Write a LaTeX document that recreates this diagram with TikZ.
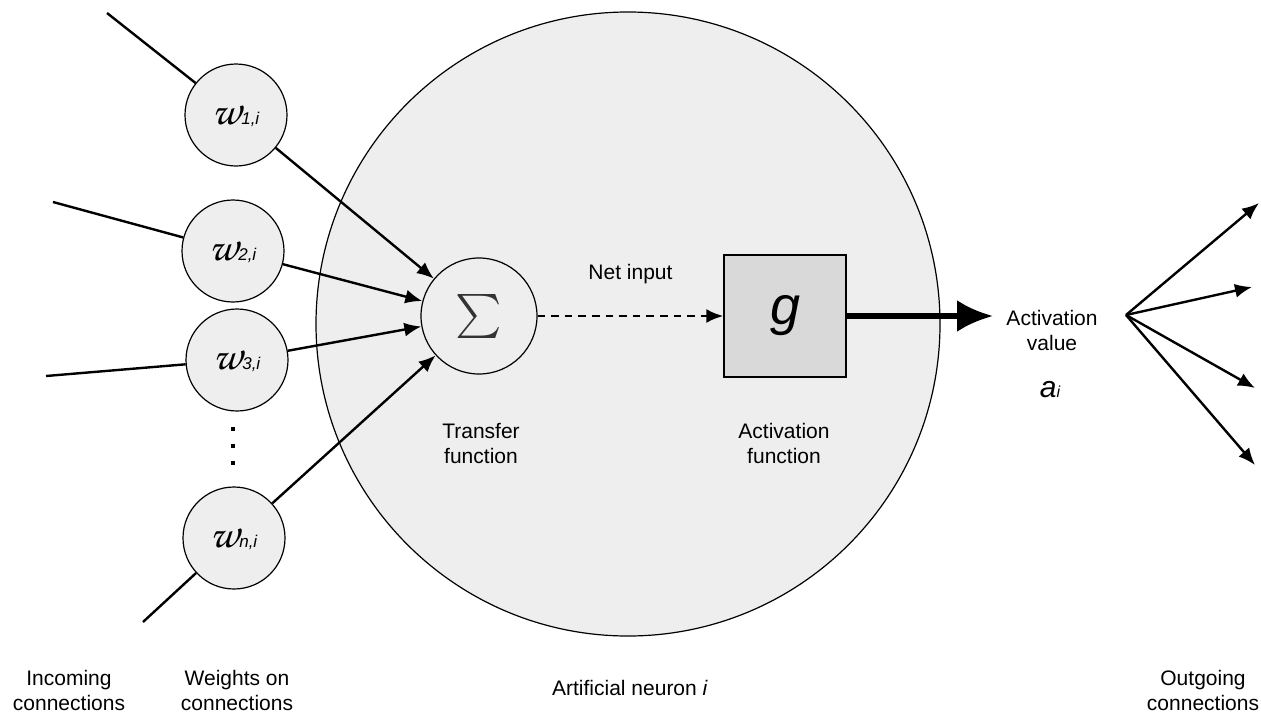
\documentclass[tikz,border=0pt]{standalone}
\usepackage[T1,TU]{fontenc}
\usepackage{fontspec}
\setmainfont{Liberation Sans}
\usetikzlibrary{arrows.meta,positioning}
\definecolor{neurongray}{HTML}{EEEEEE}
\definecolor{boxgray}{HTML}{D9D9D9}
\newcommand{\wlabel}[1]{{\fontencoding{T1}\fontfamily{pzc}\fontseries{mb}\fontshape{it}\fontsize{21}{21}\selectfont w}{\fontsize{8.5}{9}\selectfont\itshape #1}}
\begin{document}
\begin{tikzpicture}[
                        x=0.5pt, y=-0.5pt,
                        >={Latex[length=8.5pt,width=7pt]},
                        font=\fontsize{10.5}{12.5}\selectfont,
                        weight/.style={circle, draw, fill=neurongray, line width=0.6pt, minimum size=51pt, inner sep=0pt},
                        link/.style={line width=1.2pt},
                        txt/.style={align=center}
                    ]
                    \useasboundingbox (0,0) rectangle (1261,712);
                    % Blocks
                    \node [circle, draw, fill=neurongray, line width=0.6pt, minimum size=312pt, inner sep=0pt] (neuron) at (628,324) {};
                    \node [circle, draw, fill=neurongray, line width=0.6pt, minimum size=58pt, inner sep=0pt] (sum) at (479,316) {\color{black!80}\scalebox{2.2}{$\sum$}};
                    \node [rectangle, draw, fill=boxgray, line width=0.6pt, minimum size=61pt, inner sep=0pt] (g) at (785,316) {\fontsize{27}{27}\selectfont\itshape g};
                    \node [weight] (w1) at (236,115) {\wlabel{1,i}};
                    \node [weight] (w2) at (233,251) {\wlabel{2,i}};
                    \node [weight] (w3) at (237,360) {\wlabel{3,i}};
                    \node [weight] (wn) at (234,538) {\wlabel{n,i}};
                    \foreach \y in {429,446,463}
                        \fill (230.75,\y-2.25) rectangle ++(4.5,4.5);

                    \node [coordinate] (in1) at (107,13) {};
                    \node [coordinate] (in2) at (53,202) {};
                    \node [coordinate] (in3) at (46,376) {};
                    \node [coordinate] (inn) at (143,622) {};
                    \node [coordinate] (act) at (993,316) {};
                    \node [coordinate] (out) at (1126,315) {};
                    \node [coordinate] (o1) at (1259,203) {};
                    \node [coordinate] (o2) at (1252,287) {};
                    \node [coordinate] (o3) at (1255,388) {};
                    \node [coordinate] (o4) at (1255,465) {};

                    % Labels
                    \node [txt] (transfer) at (481,443) {Transfer\\function};
                    \node [txt] (actfun) at (784,443) {Activation\\function};
                    \node [txt] (actval) at (1052,330) {Activation\\value};
                    \node (ai) at (1050,390) {\fontsize{15}{15}\selectfont\itshape a\fontsize{8}{8}\selectfont i};
                    \node [txt] (incoming) at (69,690) {Incoming\\connections};
                    \node [txt] (weights) at (237,690) {Weights on\\connections};
                    \node (artificial) at (630,688) {Artificial neuron \textit{i}};
                    \node [txt] (outgoing) at (1203,690) {Outgoing\\connections};

                    % Connections
                    \foreach \k in {1,2,3,n}
                        \draw [link] (in\k) -- (w\k);
                    \foreach \k in {1,2,3,n}
                        \draw [link,->] (w\k) -- (sum);
                    \draw [->, line width=1.4pt, dash pattern=on 3.8pt off 3pt] (sum) --node[above=12pt]{Net input} (g);
                    \draw [line width=2.8pt, -{Latex[length=18pt,width=16pt]}] (g) -- (act);
                    \foreach \k in {1,...,4}
                        \draw [link,->] (out) -- (o\k);
                \end{tikzpicture}
\end{document}
